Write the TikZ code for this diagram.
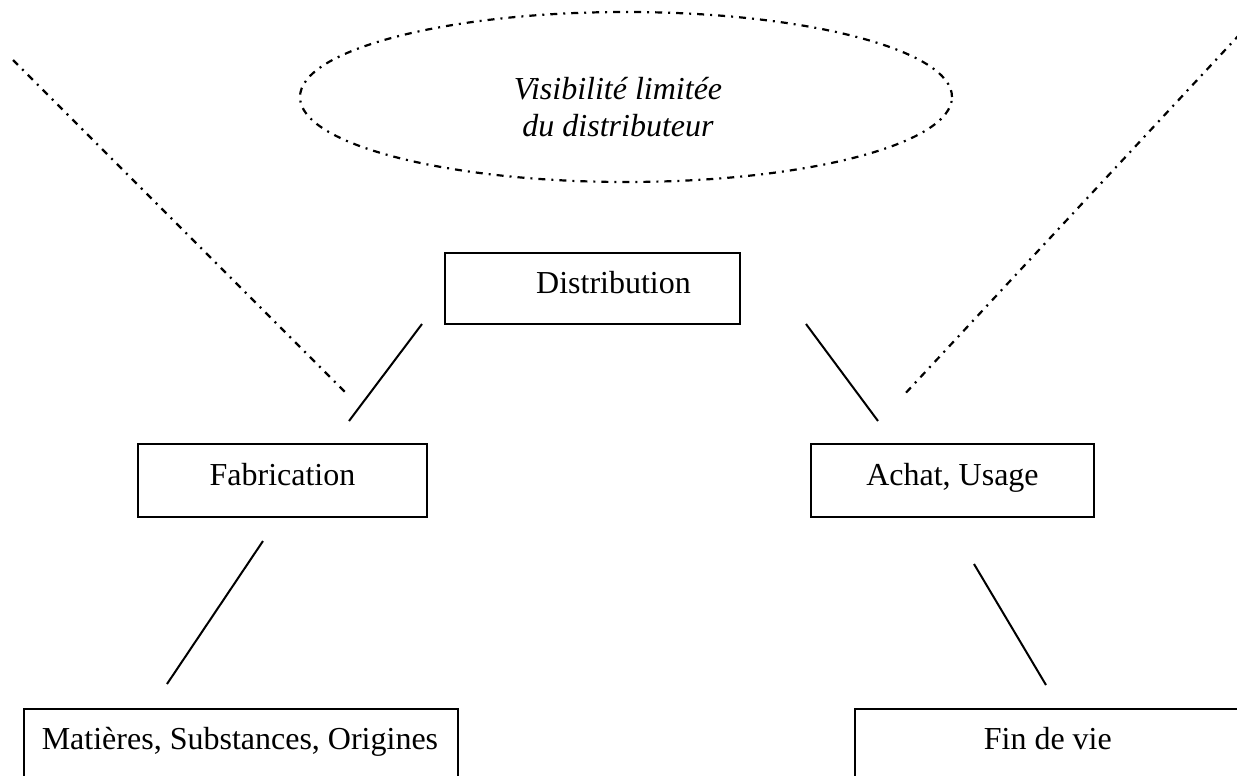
\documentclass[tikz,border=0pt]{standalone}
\usepackage{fontspec}
\setmainfont{Liberation Serif}
\usetikzlibrary{shapes.geometric}
\begin{document}
\begin{tikzpicture}[x=0.5pt,y=-0.5pt,
  box/.style={draw, line width=0.8pt, rectangle, inner sep=0pt, text height=10pt, text depth=5.5pt, font=\fontsize{16}{19}\selectfont},
  link/.style={line width=1pt},
  dashdot/.style={line width=1.1pt, dash pattern=on 3.5pt off 3pt on 1pt off 3pt},
]
\useasboundingbox (0,0) rectangle (1237,776);
\clip (0,0) rectangle (1237,776);
% ellipse
\node[ellipse, draw, dashdot, minimum width=326pt, minimum height=85pt, inner sep=0pt] (vis) at (626,97) {};
\node[font=\itshape\fontsize{16}{18.5}\selectfont, align=center, inner sep=0pt] (vistext) at (618,107) {Visibilit\'e limit\'ee\\ du distributeur};
% boxes
\node[box, minimum width=147.5pt, minimum height=35.5pt] (dist) at (592.5,288.5) {\makebox[147.5pt]{\hspace{21pt}Distribution}};
\node[box, minimum width=144.5pt, minimum height=36.5pt] (fab) at (282.5,480.5) {Fabrication};
\node[box, minimum width=141.5pt, minimum height=36.5pt] (achat) at (952.5,480.5) {Achat, Usage};
\node[box, anchor=north west, inner xsep=9pt, minimum height=36pt] (mat) at (23,708) {\makebox[199pt][l]{Mati\`eres, Substances, Origines}};
\node[box, anchor=north west, minimum width=193pt, minimum height=36pt] (fin) at (854,708) {Fin de vie};
% connector end points
\coordinate (l1a) at (422,324);
\coordinate (l1b) at (349,421);
\coordinate (l2a) at (806,324);
\coordinate (l2b) at (878,421);
\coordinate (l3a) at (263,541);
\coordinate (l3b) at (167,684);
\coordinate (l4a) at (974,564);
\coordinate (l4b) at (1046,685);
\coordinate (d1a) at (13,60);
\coordinate (d1b) at (345,392);
\coordinate (d2a) at (1240,34);
\coordinate (d2b) at (902,397);
% connectors
\draw[link] (l1a) -- (l1b);
\draw[link] (l2a) -- (l2b);
\draw[link] (l3a) -- (l3b);
\draw[link] (l4a) -- (l4b);
\draw[dashdot] (d1a) -- (d1b);
\draw[dashdot] (d2a) -- (d2b);
\end{tikzpicture}
\end{document}
